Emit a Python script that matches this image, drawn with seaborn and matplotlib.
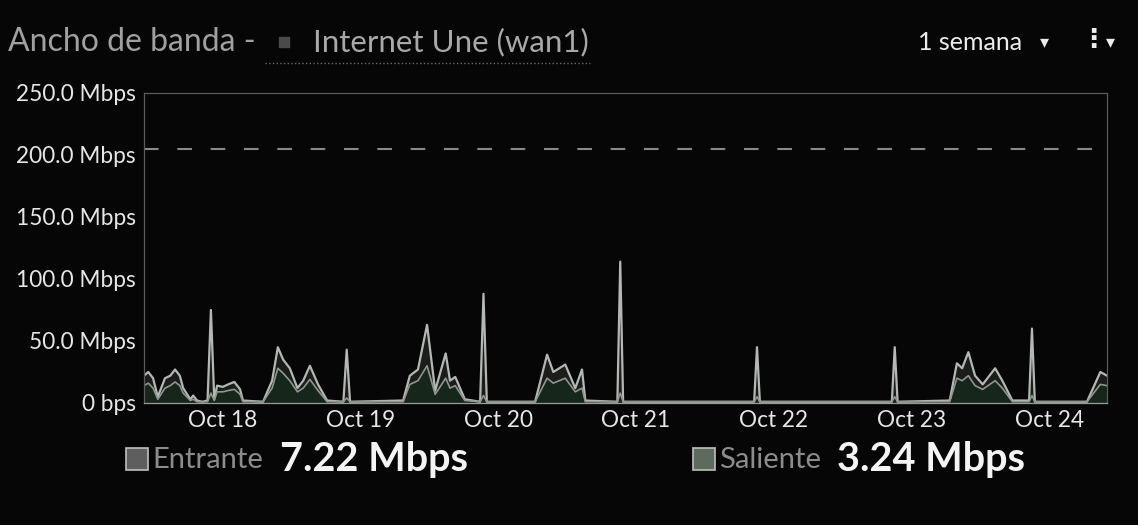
import numpy as np
import pandas as pd
import matplotlib
matplotlib.use("Agg")
import matplotlib.pyplot as plt
import matplotlib.dates as mdates
from matplotlib.patches import Rectangle
from matplotlib.lines import Line2D
import seaborn as sns

# bandwidth samples (Mbps)
times = ["10-17 10:15", "10-17 11:00", "10-17 11:50", "10-17 12:40", "10-17 13:55", "10-17 14:50",
         "10-17 15:40", "10-17 16:30", "10-17 17:05", "10-17 18:20", "10-17 18:50", "10-17 19:30",
         "10-17 20:25", "10-17 21:20", "10-17 21:55", "10-17 22:30", "10-17 23:00",
         "10-18 00:00", "10-18 00:55", "10-18 02:00", "10-18 03:00", "10-18 03:30", "10-18 07:00",
         "10-18 08:35", "10-18 09:35", "10-18 10:30", "10-18 11:40", "10-18 13:00", "10-18 14:00",
         "10-18 15:10", "10-18 16:35", "10-18 18:10", "10-18 21:00", "10-18 21:35", "10-18 22:10",
         "10-19 07:25", "10-19 08:35", "10-19 10:00", "10-19 11:35", "10-19 13:00", "10-19 14:50",
         "10-19 15:35", "10-19 16:30", "10-19 18:10", "10-19 20:50", "10-19 21:25", "10-19 22:00",
         "10-20 06:25", "10-20 08:30", "10-20 09:35", "10-20 11:40", "10-20 13:25", "10-20 14:35",
         "10-20 15:10", "10-20 20:45", "10-20 21:15", "10-20 21:45",
         "10-21 20:35", "10-21 21:05", "10-21 21:35",
         "10-22 20:35", "10-22 21:05", "10-22 21:35",
         "10-23 06:40", "10-23 07:55", "10-23 08:50", "10-23 09:55", "10-23 11:05", "10-23 12:25",
         "10-23 14:35", "10-23 15:50", "10-23 17:35", "10-23 20:30", "10-23 21:00", "10-23 21:30",
         "10-24 06:35", "10-24 08:55", "10-24 10:05"]
entrante = [22, 25, 20, 5, 20, 22, 27, 22, 12, 3, 6, 2, 1, 2, 75, 3, 14,
            13, 15, 17, 11, 2, 1, 18, 45, 35, 28, 12, 18, 30, 15, 2, 1, 43, 1,
            2, 22, 27, 63, 10, 40, 18, 21, 3, 1, 88, 1,
            1, 39, 25, 31, 12, 27, 2, 1, 114, 1,
            1, 45, 1,
            1, 45, 1,
            2, 32, 28, 41, 22, 15, 28, 18, 2, 2, 60, 1,
            1, 25, 22]
saliente = [14, 16, 12, 3, 12, 14, 17, 14, 8, 2, 3, 1, 1, 1, 8, 2, 9,
            9, 10, 11, 7, 1, 1, 12, 28, 24, 18, 9, 12, 19, 10, 1, 1, 4, 1,
            1, 15, 18, 30, 7, 20, 12, 14, 2, 1, 6, 1,
            1, 20, 16, 20, 9, 12, 1, 1, 8, 1,
            1, 5, 1,
            1, 5, 1,
            1, 20, 18, 22, 14, 11, 18, 12, 1, 1, 6, 1,
            1, 15, 14]
yticks = [0, 50, 100, 150, 200, 250]
limite = 205
prom_entrante = "7.22 Mbps"
prom_saliente = "3.24 Mbps"

df = pd.DataFrame({"t": pd.to_datetime(["2019-" + s for s in times], format="%Y-%m-%d %H:%M"),
                   "Entrante": entrante, "Saliente": saliente})

sns.set_style("dark")
plt.rcParams['font.family'] = ['Lato', 'DejaVu Sans']

bg = "#050605"
fig = plt.figure(figsize=(11.38, 5.25), dpi=100, facecolor=bg)
ax = fig.add_axes([0.1265, 0.2324, 0.8463, 0.5905])
ax.set_facecolor(bg)

line_col = "#b4b8b4"
ax.fill_between(df["t"], df["Entrante"], color="#2a2e2a", alpha=0.6, lw=0)
ax.fill_between(df["t"], df["Saliente"], color="#17261a", lw=0)
sns.lineplot(data=df, x="t", y="Entrante", ax=ax, color=line_col, lw=1.6)
sns.lineplot(data=df, x="t", y="Saliente", ax=ax, color="#8f968f", lw=1.2)
ax.axhline(limite, color="#8a8a8a", lw=1.5, dashes=(7, 9))

ax.set_xlim(pd.Timestamp("2019-10-17 10:15"), pd.Timestamp("2019-10-24 10:05"))
ax.set_ylim(0, 250)
ax.set_yticks(yticks)
ax.set_yticklabels(["0 bps" if v == 0 else f"{v:.1f} Mbps" for v in yticks])
ax.set_xticks(pd.date_range("2019-10-18", "2019-10-24", freq="D"))
ax.xaxis.set_major_formatter(mdates.DateFormatter("%b %d"))
ax.tick_params(axis="both", length=0, colors="#e6e6e6", labelsize=16.3)
ax.tick_params(axis="x", pad=5)
ax.tick_params(axis="y", pad=6)
ax.set_xlabel("")
ax.set_ylabel("")
ax.grid(False)
for side, sp in ax.spines.items():
    sp.set_visible(True)
    sp.set_color("#5a5a5a")
    sp.set_linewidth(0.9)
ax.spines["bottom"].set_color("#9a9a9a")

# header
W, H = 1138, 525
def fx(x): return x / W
def fy(y): return 1 - y / H

fig.text(fx(8), fy(42), "Ancho de banda -", color="#a0a0a0", fontsize=23, va="center")
fig.add_artist(Rectangle((fx(279), fy(47)), 10 / W, 10 / H, color="#4a4a4a", transform=fig.transFigure))
fig.text(fx(313), fy(42), "Internet Une (wan1)", color="#a8a8a8", fontsize=22.5, va="center")
fig.add_artist(Line2D([fx(265), fx(590)], [fy(63), fy(63)], color="#6a6a6a", lw=1, ls=":",
                      transform=fig.transFigure))
fig.text(fx(918), fy(42), "1 semana", color="#ececec", fontsize=18, va="center")
fig.text(fx(1044), fy(42), "▾", color="#ececec", fontsize=13, ha="center", va="center",
         family="DejaVu Sans")
fig.text(fx(1093), fy(40), "⋮", color="#ececec", fontsize=19, ha="center", va="center",
         fontweight="bold", family="DejaVu Sans")
fig.text(fx(1110), fy(42), "▾", color="#ececec", fontsize=13, ha="center", va="center",
         family="DejaVu Sans")

# footer legend
fig.add_artist(Rectangle((fx(126), fy(470)), 22 / W, 22 / H, facecolor="#5e5e5e", edgecolor="#c0c0c0",
                         lw=1.2, transform=fig.transFigure))
fig.text(fx(152), fy(460), "Entrante", color="#8c8c8c", fontsize=21, va="center")
fig.text(fx(280), fy(460), prom_entrante, color="#f4f4f4", fontsize=28.5, fontweight="bold", va="center")
fig.add_artist(Rectangle((fx(693), fy(470)), 22 / W, 22 / H, facecolor="#5f6a5f", edgecolor="#c0c0c0",
                         lw=1.2, transform=fig.transFigure))
fig.text(fx(719), fy(460), "Saliente", color="#8c8c8c", fontsize=21, va="center")
fig.text(fx(837), fy(460), prom_saliente, color="#f4f4f4", fontsize=28.5, fontweight="bold", va="center")

fig.savefig("out.png", dpi=100, facecolor=bg)
